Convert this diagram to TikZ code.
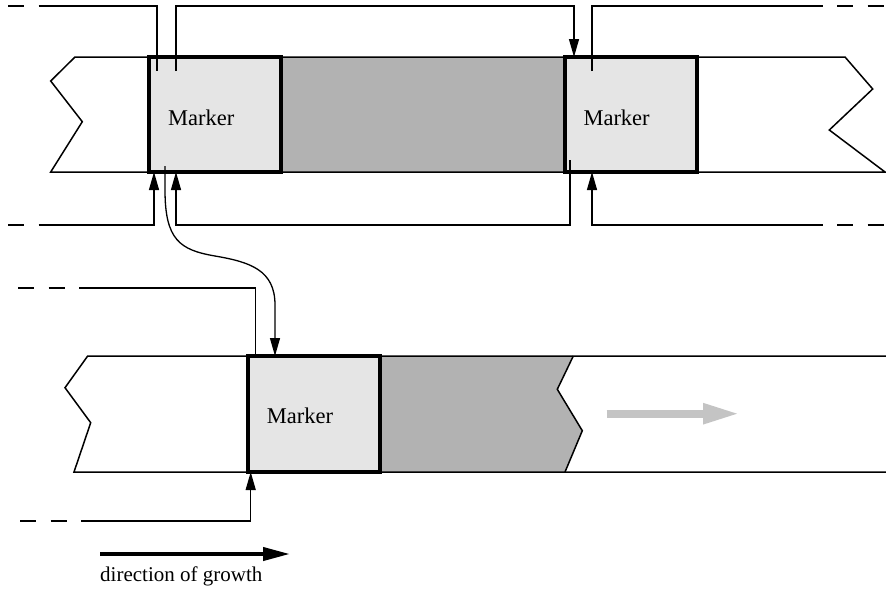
\documentclass[tikz,border=0pt]{standalone}
\usepackage{fontspec}
\setmainfont{Liberation Serif}
\usetikzlibrary{arrows.meta}
\definecolor{markfill}{gray}{0.9}
\definecolor{fillgray}{gray}{0.7}
\definecolor{arrgray}{gray}{0.77}
\begin{document}
\begin{tikzpicture}[x=1pt,y=-1pt,
  conn/.style={line width=1.3pt},
  dashconn/.style={line width=1.3pt, dash pattern=on 16pt off 14.5pt},
  tip/.style={-{Triangle[length=18pt,width=10pt]}},
  markerbox/.style={draw, line width=3.4pt, fill=markfill, minimum width=132pt, minimum height=115pt, inner sep=0pt, outer sep=0pt},
  marktext/.style={anchor=base west, inner sep=0pt, font=\fontsize{22.5}{26}\selectfont},
  strip/.style={line width=1.5pt}
]
\useasboundingbox (0,0) rectangle (886,592);
% top strip
\fill[fillgray] (281,57) rectangle (565,172);
\draw[strip] (75,57) -- (845,57) -- (872.7,89) -- (829.3,130) -- (885,172) -- (50.7,172) -- (82.3,121.7) -- (50.7,81) -- cycle;
\node[markerbox] (m1) at (215,114.5) {};
\node[markerbox] (m2) at (631,114.5) {};
\node[marktext] (t1) at (168,125) {Marker};
\node[marktext] (t2) at (583.3,125) {Marker};
% bottom strip
\fill[fillgray] (380,356) -- (573.3,356) -- (557.3,389.3) -- (582.3,430.7) -- (565,472) -- (380,472) -- cycle;
\draw[strip] (573.3,356) -- (557.3,389.3) -- (582.3,430.7) -- (565,472);
\draw[strip] (886,356) -- (87.7,356) -- (65,387.7) -- (90.7,422.7) -- (74,472) -- (886,472);
\node[markerbox, minimum height=116pt] (m3) at (314,414) {};
\node[marktext] (t3) at (266.7,423.3) {Marker};
% growth arrow (gray)
\coordinate (ga0) at (606.7,413.7);
\coordinate (ga1) at (740,413.7);
\draw[arrgray, line width=8pt, -{Triangle[length=37pt,width=19pt]}] (ga0) -- (ga1);
% C1
\coordinate (c1a) at (8,6); \coordinate (c1b) at (50,6); \coordinate (c1c) at (157,6); \coordinate (c1d) at (157,71);
\draw[dashconn] (c1a) -- (c1b);
\draw[conn] (c1b) -- (c1c) -- (c1d);
% C2
\coordinate (c2a) at (176,71); \coordinate (c2b) at (176,6); \coordinate (c2c) at (574,6);
\draw[conn,tip] (c2a) -- (c2b) -- (c2c) -- (c2c |- m2.north);
% C3
\coordinate (c3a) at (592,71); \coordinate (c3b) at (592,6); \coordinate (c3c) at (806.7,6); \coordinate (c3d) at (886,6);
\draw[conn] (c3a) -- (c3b) -- (c3c);
\draw[dashconn] (c3c) -- (c3d);
% C4
\coordinate (c4a) at (8,225); \coordinate (c4b) at (50,225); \coordinate (c4c) at (154,225);
\draw[dashconn] (c4a) -- (c4b);
\draw[conn,tip] (c4b) -- (c4c) -- (c4c |- m1.south);
% C5
\coordinate (c5a) at (570,160); \coordinate (c5b) at (570,225); \coordinate (c5c) at (176,225);
\draw[conn,tip] (c5a) -- (c5b) -- (c5c) -- (c5c |- m1.south);
% C6
\coordinate (c6a) at (806.7,225); \coordinate (c6b) at (886,225); \coordinate (c6c) at (592,225);
\draw[dashconn] (c6a) -- (c6b);
\draw[conn,tip] (c6a) -- (c6c) -- (c6c |- m2.south);
% curved connector
\coordinate (cv0) at (165,166); \coordinate (cv1) at (275,305);
\draw[conn,tip] (cv0) -- (165,190) .. controls (165,240) and (180,250) .. (215,256) .. controls (250,262) and (275,270) .. (cv1) -- (cv1 |- m3.north);
% C7
\coordinate (c7a) at (18,288); \coordinate (c7b) at (83,288); \coordinate (c7c) at (255.7,288);
\draw[dashconn] (c7a) -- (c7b);
\draw[conn] (c7b) -- (c7c) -- (c7c |- m3.north);
% C8
\coordinate (c8a) at (20,521); \coordinate (c8b) at (83,521); \coordinate (c8c) at (250.7,521);
\draw[dashconn] (c8a) -- (c8b);
\draw[conn,tip] (c8b) -- (c8c) -- (c8c |- m3.south);
% direction of growth
\coordinate (g0) at (100,554); \coordinate (g1) at (290,554);
\draw[line width=4pt, -{Triangle[length=27pt,width=13pt]}] (g0) -- (g1);
\node[anchor=base west, inner sep=0pt, font=\fontsize{21}{24}\selectfont] (dir) at (100,581.7) {direction of growth};
\end{tikzpicture}
\end{document}
